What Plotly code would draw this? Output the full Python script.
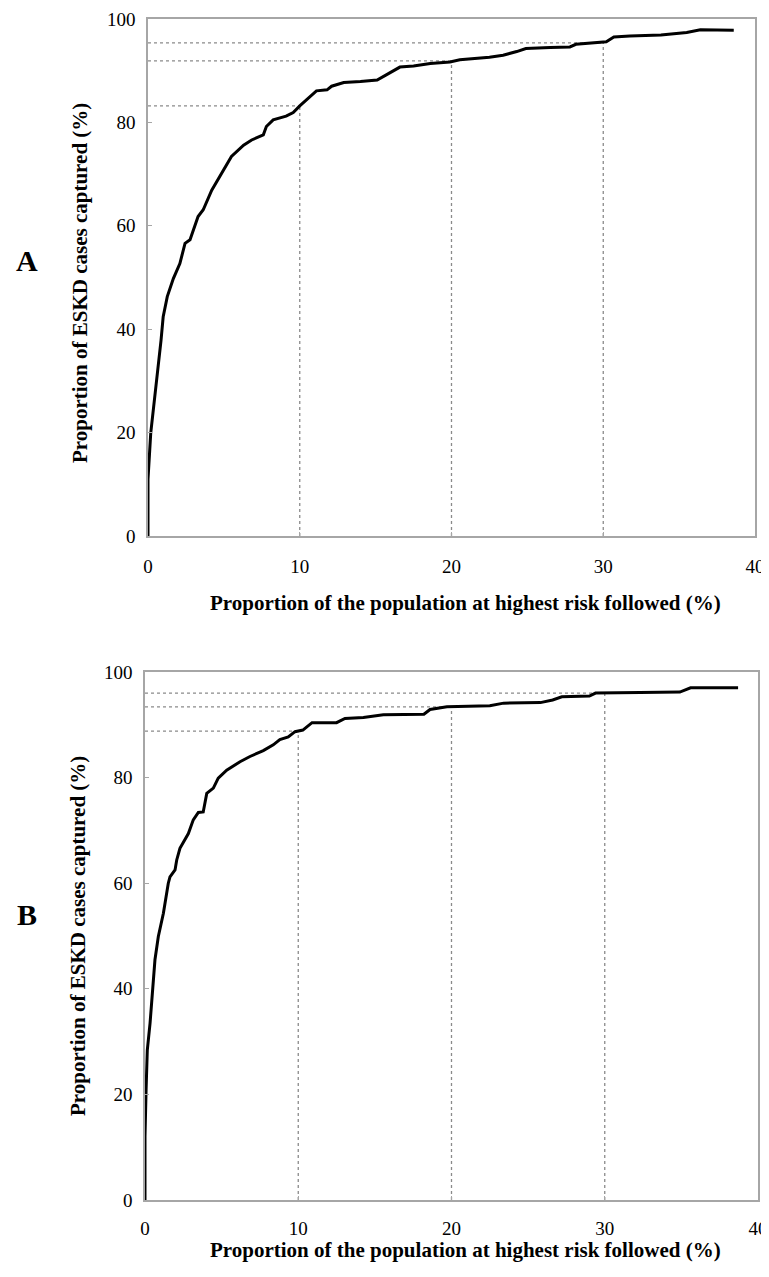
import plotly.graph_objects as go

# ---- Data ----
# Panel A curve: proportion of population followed (%) vs ESKD cases captured (%)
a_x = [0, 0, 0.18, 0.3, 0.57, 0.86, 1.0, 1.27, 1.67, 2.1, 2.44, 2.77, 3.3, 3.64, 4.2,
       4.85, 5.5, 6.3, 6.83, 7.6, 7.8, 8.25, 9.1, 9.57, 10.0, 11.1, 11.8, 12.1, 12.9,
       14.0, 15.1, 15.7, 16.6, 17.5, 18.6, 19.9, 20.55, 22.5, 23.4, 24.3, 24.9, 26.5,
       27.8, 28.2, 29.3, 30.2, 30.7, 31.75, 33.8, 34.6, 35.5, 36.4, 38.6]
a_y = [0, 11.0, 19.9, 23.0, 29.6, 37.9, 42.4, 46.3, 49.8, 52.7, 56.6, 57.3, 61.8, 63.1, 66.9,
       70.2, 73.4, 75.6, 76.6, 77.6, 79.2, 80.5, 81.2, 81.9, 83.2, 86.1, 86.3, 87.0, 87.7,
       87.9, 88.2, 89.2, 90.7, 90.9, 91.4, 91.7, 92.1, 92.6, 93.0, 93.7, 94.3, 94.5,
       94.6, 95.1, 95.4, 95.6, 96.5, 96.7, 96.9, 97.1, 97.4, 97.9, 97.8]

# Panel B curve
b_x = [0, 0, 0.07, 0.15, 0.33, 0.5, 0.65, 0.87, 1.2, 1.52, 1.63, 1.96, 2.07, 2.28, 2.83,
       3.15, 3.48, 3.8, 4.03, 4.46, 4.78, 5.33, 6.2, 6.85, 7.72, 8.37, 8.8, 9.35, 9.79,
       10.3, 10.9, 12.5, 13.05, 14.25, 15.55, 18.2, 18.6, 19.7, 22.5, 23.4, 25.8, 26.6,
       27.2, 29.0, 29.4, 32.3, 34.9, 35.6, 38.7]
b_y = [0, 12.0, 20.8, 28.4, 33.5, 39.8, 45.5, 49.9, 54.3, 60.0, 61.2, 62.5, 64.4, 66.6, 69.4,
       72.0, 73.4, 73.5, 77.0, 78.0, 79.9, 81.4, 83.0, 84.0, 85.1, 86.2, 87.2, 87.7, 88.7,
       89.0, 90.4, 90.4, 91.2, 91.4, 91.9, 92.0, 92.9, 93.4, 93.6, 94.1, 94.2, 94.7,
       95.3, 95.45, 96.0, 96.1, 96.2, 97.0, 97.0]

# Reference thresholds (dotted guide lines)
threshold_x = [10, 20, 30]
captured_a = [83.2, 91.9, 95.4]
captured_b = [88.8, 93.4, 96.0]

x_ticks = [0, 10, 20, 30, 40]
y_ticks = [0, 20, 40, 60, 80, 100]
x_title = "Proportion of the population at highest risk followed (%)"
y_title = "Proportion of ESKD cases captured (%)"
panel_labels = ["A", "B"]

FONT = "Liberation Serif, Times New Roman, serif"
GUIDE = "#8a8a8a"
FRAME = "#a6a6a6"

fig = go.Figure()


def add_guides(xref, yref, tx, ty):
    for xv, yv in zip(tx, ty):
        fig.add_trace(go.Scatter(x=[0, xv], y=[yv, yv], mode="lines",
                                 line=dict(color=GUIDE, width=1.3, dash="dot"),
                                 xaxis=xref, yaxis=yref, showlegend=False, hoverinfo="skip"))
        fig.add_trace(go.Scatter(x=[xv, xv], y=[0, yv], mode="lines",
                                 line=dict(color=GUIDE, width=1.3, dash="dot"),
                                 xaxis=xref, yaxis=yref, showlegend=False, hoverinfo="skip"))


add_guides("x", "y", threshold_x, captured_a)
add_guides("x2", "y2", threshold_x, captured_b)

fig.add_trace(go.Scatter(x=a_x, y=a_y, mode="lines", line=dict(color="black", width=3),
                         xaxis="x", yaxis="y", showlegend=False))
fig.add_trace(go.Scatter(x=b_x, y=b_y, mode="lines", line=dict(color="black", width=3),
                         xaxis="x2", yaxis="y2", showlegend=False))

# page body has an 8px margin, so the figure is offset by 8px
OFF = 8
W, H = 769 - OFF, 1277 - OFF


def px_x(p):
    return (p - OFF) / W


def px_y(p):
    return 1 - (p - OFF) / H


axis_common = dict(showline=True, linecolor=FRAME, linewidth=1.5, mirror=True,
                   ticks="inside", ticklen=4, tickcolor=FRAME, tickwidth=1.2,
                   showgrid=False, zeroline=False, automargin=False,
                   tickfont=dict(family=FONT, size=19, color="black"))

fig.update_layout(
    width=W, height=H,
    margin=dict(l=0, r=0, t=0, b=0, autoexpand=False),
    paper_bgcolor="white", plot_bgcolor="white",
    xaxis=dict(domain=[px_x(148), px_x(755)], range=[0, 40], tickvals=x_ticks,
               anchor="y", ticklabelstandoff=12, **axis_common),
    yaxis=dict(domain=[px_y(536), px_y(19)], range=[0, 100], tickvals=y_ticks,
               anchor="x", ticklabelstandoff=7, **axis_common),
    xaxis2=dict(domain=[px_x(145), px_x(758)], range=[0, 40], tickvals=x_ticks,
                anchor="y2", ticklabelstandoff=10, **axis_common),
    yaxis2=dict(domain=[px_y(1200), px_y(672)], range=[0, 100], tickvals=y_ticks,
                anchor="x2", ticklabelstandoff=7, **axis_common),
)

title_font = dict(family=FONT, size=21, color="black")
annotations = []
for (xc, yc_title, ylab_x, ylab_y, lab_y, lab) in [
        (465, 603, 80, 283, 260, panel_labels[0]),
        (465, 1250, 78, 936, 914, panel_labels[1])]:
    annotations.append(dict(text="<b>%s</b>" % x_title, x=px_x(xc), y=px_y(yc_title),
                            xref="paper", yref="paper", showarrow=False,
                            xanchor="center", yanchor="middle", font=title_font))
    annotations.append(dict(text="<b>%s</b>" % y_title, x=px_x(ylab_x), y=px_y(ylab_y),
                            xref="paper", yref="paper", showarrow=False, textangle=-90,
                            xanchor="center", yanchor="middle", font=title_font))
    annotations.append(dict(text="<b>%s</b>" % lab, x=px_x(27), y=px_y(lab_y),
                            xref="paper", yref="paper", showarrow=False,
                            xanchor="center", yanchor="middle",
                            font=dict(family=FONT, size=30, color="black")))
fig.update_layout(annotations=annotations)

fig.write_html("out.html")
